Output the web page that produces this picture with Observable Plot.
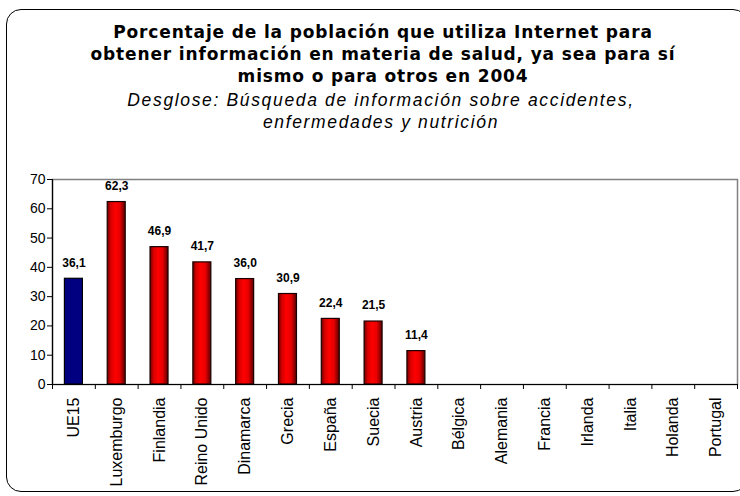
<!DOCTYPE html>
<html>
<head>
<meta charset="utf-8">
<script src="https://cdn.jsdelivr.net/npm/d3@7"></script>
<script src="https://cdn.jsdelivr.net/npm/@observablehq/plot@0.6"></script>
<style>
  html, body { margin: 0; padding: 0; background: #fff; overflow: hidden; }
  #wrap { position: relative; width: 740px; height: 496px; overflow: hidden; background: #fff; }
  #box { position: absolute; left: 6px; top: 9px; width: 742px; height: 483px; border: 1.5px solid #000; border-radius: 15px; box-sizing: border-box; }
  #title { position: absolute; left: 13px; top: 21px; width: 740px; text-align: center; font-family: "DejaVu Sans", Verdana, sans-serif; font-weight: bold; font-size: 17px; letter-spacing: 0.85px; line-height: 22px; color: #000; white-space: nowrap; }
  #sub { position: absolute; left: 11px; top: 89px; width: 740px; text-align: center; font-family: "Liberation Sans", Arial, sans-serif; font-style: italic; font-size: 17.5px; letter-spacing: 1.65px; line-height: 22px; color: #000; white-space: nowrap; }
  #chart { position: absolute; left: 0; top: 160px; }
</style>
</head>
<body>
<div id="wrap">
  <div id="box"></div>
  <div id="title">Porcentaje de la población que utiliza Internet para<br>obtener información en materia de salud, ya sea para sí<br>mismo o para otros en 2004</div>
  <div id="sub">Desglose: Búsqueda de información sobre accidentes,<br>enfermedades y nutrición</div>
  <div id="chart"></div>
</div>
<script>
const categories = ["UE15", "Luxemburgo", "Finlandia", "Reino Unido", "Dinamarca", "Grecia", "España", "Suecia", "Austria", "Bélgica", "Alemania", "Francia", "Irlanda", "Italia", "Holanda", "Portugal"];
const values = [36.1, 62.3, 46.9, 41.7, 36.0, 30.9, 22.4, 21.5, 11.4, null, null, null, null, null, null, null];
const yTicks = [0, 10, 20, 30, 40, 50, 60, 70];

const rows = categories.map((c, i) => ({c, v: values[i]}));
const withValue = rows.filter(d => d.v != null);
const fmt = d => d.v.toFixed(1).replace(".", ",");

const W = 740, ML = 52, MR = 3;
const step = (W - ML - MR) / categories.length;

const svg = Plot.plot({
  width: W,
  height: 334,
  marginLeft: ML,
  marginRight: MR,
  marginTop: 19,
  marginBottom: 110,
  style: {fontFamily: "'Liberation Sans', Arial, sans-serif", fontSize: "13px", color: "#000", background: "transparent", overflow: "visible"},
  x: {type: "band", domain: categories, paddingInner: 0.58, paddingOuter: 0.29, round: false, label: null},
  y: {domain: [0, 70], label: null},
  marks: [
    Plot.frame({stroke: "#808080", strokeWidth: 1.5}),
    Plot.axisY({ticks: yTicks, tickSize: 5, tickPadding: 2, fontSize: 14, label: null}),
    Plot.axisX({tickSize: 0, tickRotate: -90, tickPadding: 13, fontSize: 16, label: null}),
    Plot.barY(withValue.filter(d => d.c === "UE15"), {x: "c", y: "v", fill: "#000080", stroke: "#000", strokeWidth: 1.2}),
    Plot.barY(withValue.filter(d => d.c !== "UE15"), {x: "c", y: "v", fill: "url(#redgrad)", stroke: "#1a0000", strokeWidth: 1.2}),
    Plot.ruleY([0], {stroke: "#000", strokeWidth: 1.2}),
    Plot.ruleX([categories[0]], {x: d => d, y1: 0, y2: 70, dx: -step / 2, stroke: "#000", strokeWidth: 1.2}),
    Plot.ruleX(categories, {x: d => d, y1: 0, y2: 0, insetBottom: -5, dx: -step / 2, stroke: "#000"}),
    Plot.ruleX([categories[categories.length - 1]], {x: d => d, y1: 0, y2: 0, insetBottom: -5, dx: step / 2, stroke: "#000"}),
    Plot.text(withValue, {x: "c", y: "v", text: fmt, dy: -16, fontWeight: "bold", fontSize: 12, fill: "#000"})
  ]
});

const ns = "http://www.w3.org/2000/svg";
const defs = document.createElementNS(ns, "defs");
defs.innerHTML = '<linearGradient id="redgrad" x1="0" x2="1" y1="0" y2="0">' +
  '<stop offset="0" stop-color="#6e0000"/>' +
  '<stop offset="0.2" stop-color="#d80000"/>' +
  '<stop offset="0.45" stop-color="#ff0000"/>' +
  '<stop offset="0.7" stop-color="#e80000"/>' +
  '<stop offset="1" stop-color="#5a0000"/>' +
  '</linearGradient>';
svg.insertBefore(defs, svg.firstChild);

document.getElementById("chart").appendChild(svg);
</script>
</body>
</html>
